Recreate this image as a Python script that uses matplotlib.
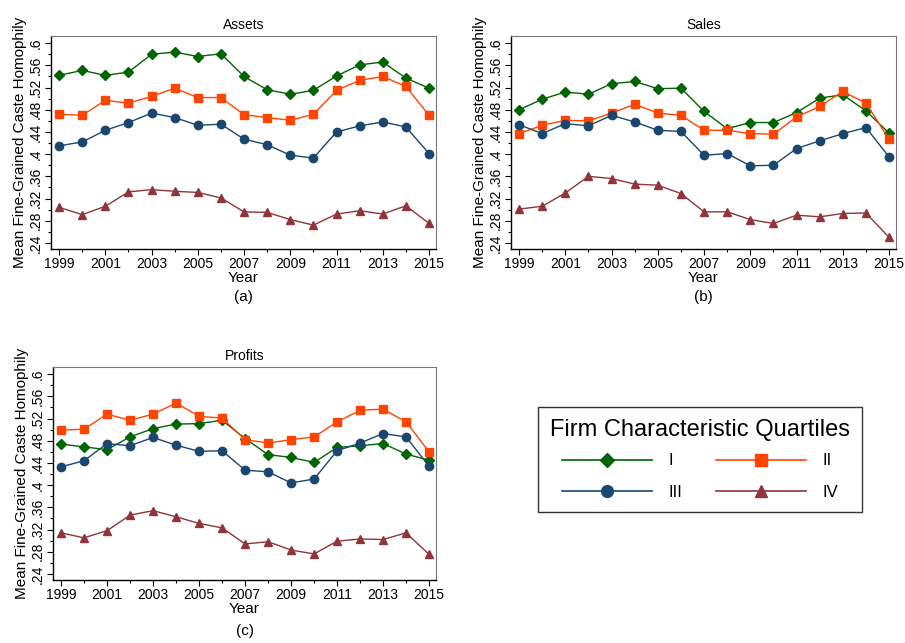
import numpy as np
import matplotlib
matplotlib.use('Agg')
import matplotlib.pyplot as plt
from matplotlib.ticker import MultipleLocator, FixedLocator
from matplotlib.lines import Line2D

plt.rcParams['font.family'] = ['Liberation Sans', 'DejaVu Sans']

years = list(range(1999, 2016))
quartiles = ['I', 'II', 'III', 'IV']

assets_q1 = [0.542, 0.551, 0.542, 0.548, 0.580, 0.584, 0.576, 0.581, 0.540, 0.516, 0.508, 0.515, 0.541, 0.561, 0.566, 0.537, 0.519]
assets_q2 = [0.472, 0.470, 0.497, 0.492, 0.504, 0.519, 0.502, 0.502, 0.471, 0.466, 0.461, 0.472, 0.515, 0.533, 0.540, 0.522, 0.470]
assets_q3 = [0.415, 0.422, 0.443, 0.457, 0.474, 0.466, 0.452, 0.454, 0.427, 0.417, 0.398, 0.393, 0.440, 0.451, 0.458, 0.449, 0.401]
assets_q4 = [0.304, 0.291, 0.306, 0.332, 0.336, 0.333, 0.331, 0.321, 0.296, 0.295, 0.282, 0.272, 0.292, 0.298, 0.292, 0.307, 0.275]

sales_q1 = [0.480, 0.499, 0.512, 0.508, 0.527, 0.531, 0.518, 0.519, 0.477, 0.446, 0.457, 0.457, 0.475, 0.501, 0.507, 0.478, 0.438]
sales_q2 = [0.437, 0.452, 0.461, 0.460, 0.474, 0.490, 0.474, 0.470, 0.443, 0.443, 0.437, 0.436, 0.467, 0.486, 0.513, 0.492, 0.427]
sales_q3 = [0.453, 0.437, 0.455, 0.451, 0.470, 0.458, 0.443, 0.441, 0.398, 0.401, 0.379, 0.380, 0.410, 0.424, 0.437, 0.448, 0.395]
sales_q4 = [0.301, 0.306, 0.330, 0.360, 0.356, 0.346, 0.344, 0.329, 0.296, 0.296, 0.282, 0.275, 0.290, 0.287, 0.293, 0.294, 0.250]

profits_q1 = [0.474, 0.469, 0.464, 0.487, 0.502, 0.510, 0.511, 0.517, 0.484, 0.455, 0.450, 0.441, 0.468, 0.471, 0.475, 0.456, 0.445]
profits_q2 = [0.499, 0.501, 0.528, 0.517, 0.528, 0.548, 0.524, 0.521, 0.482, 0.476, 0.482, 0.487, 0.514, 0.535, 0.537, 0.514, 0.460]
profits_q3 = [0.433, 0.444, 0.475, 0.471, 0.486, 0.472, 0.461, 0.462, 0.427, 0.424, 0.404, 0.411, 0.462, 0.476, 0.493, 0.487, 0.434]
profits_q4 = [0.314, 0.305, 0.318, 0.346, 0.354, 0.343, 0.331, 0.323, 0.294, 0.298, 0.283, 0.276, 0.299, 0.303, 0.302, 0.314, 0.275]

panels = [
    ('Assets', '(a)', [assets_q1, assets_q2, assets_q3, assets_q4]),
    ('Sales', '(b)', [sales_q1, sales_q2, sales_q3, sales_q4]),
    ('Profits', '(c)', [profits_q1, profits_q2, profits_q3, profits_q4]),
]

colors = ['#006400', '#ff4500', '#1a476f', '#90353b']
markers = ['D', 's', 'o', '^']
msizes = [5, 5.5, 6, 6]

W, H = 905, 643
fig = plt.figure(figsize=(W / 100, H / 100), dpi=100)

# axes boxes in pixels: left, top, right, bottom; then y of the (a)/(b)/(c) tag
boxes = [(51, 36, 436, 249, 297), (511, 36, 896, 249, 297), (53, 367, 436, 580, 631)]

yt = [0.24, 0.28, 0.32, 0.36, 0.40, 0.44, 0.48, 0.52, 0.56, 0.60]
ytl = ['.24', '.28', '.32', '.36', '.4', '.44', '.48', '.52', '.56', '.6']

for (title, tag, series), (l, t, r, b, ty) in zip(panels, boxes):
    ax = fig.add_axes([l / W, 1 - b / H, (r - l) / W, (b - t) / H])
    for vals, c, m, ms in zip(series, colors, markers, msizes):
        ax.plot(years, vals, color=c, marker=m, markersize=ms, lw=1.0)
    ax.set_xlim(1998.65, 2015.3)
    ax.set_ylim(0.229, 0.613)
    ax.set_xticks(list(range(1999, 2016, 2)))
    ax.xaxis.set_minor_locator(FixedLocator(list(range(2000, 2015, 2))))
    ax.set_yticks(yt)
    ax.set_yticklabels(ytl, rotation=90, va='center')
    ax.yaxis.set_minor_locator(MultipleLocator(0.02))
    ax.tick_params(axis='both', which='major', labelsize=10, length=4, width=0.8, direction='out', pad=2)
    ax.tick_params(axis='both', which='minor', length=2, width=0.8, direction='out')
    for s in ['top', 'right']:
        ax.spines[s].set_color('#777777')
    for s in ['left', 'bottom']:
        ax.spines[s].set_linewidth(1.0)
    ax.set_title(title, fontsize=10, pad=5)
    ax.set_xlabel('Year', fontsize=11, labelpad=0)
    ax.set_ylabel('Mean Fine-Grained Caste Homophily', fontsize=11, labelpad=1)
    fig.text((l + r) / 2 / W, 1 - ty / H, tag, ha='center', va='center', fontsize=11)

# legend fills column by column, so order handles to get I II / III IV rows
order = [0, 2, 1, 3]
handles = [Line2D([], [], color=colors[i], marker=markers[i], markersize=msizes[i] + 2.5, lw=1.2)
           for i in order]
labels = [quartiles[i] for i in order]
leg = fig.legend(handles, labels, loc='center', ncol=2,
                 bbox_to_anchor=((531 + 869) / 2 / W, 1 - (405 + 514) / 2 / H),
                 title='Firm Characteristic Quartiles', title_fontsize=17, fontsize=12,
                 frameon=True, fancybox=False, edgecolor='black', handlelength=5.4,
                 columnspacing=2.0, handletextpad=1.0, borderpad=0.7, labelspacing=1.0,
                 borderaxespad=0)
leg.get_frame().set_linewidth(1.0)
leg._legend_box.sep = 9

fig.savefig('out.png', dpi=100)
